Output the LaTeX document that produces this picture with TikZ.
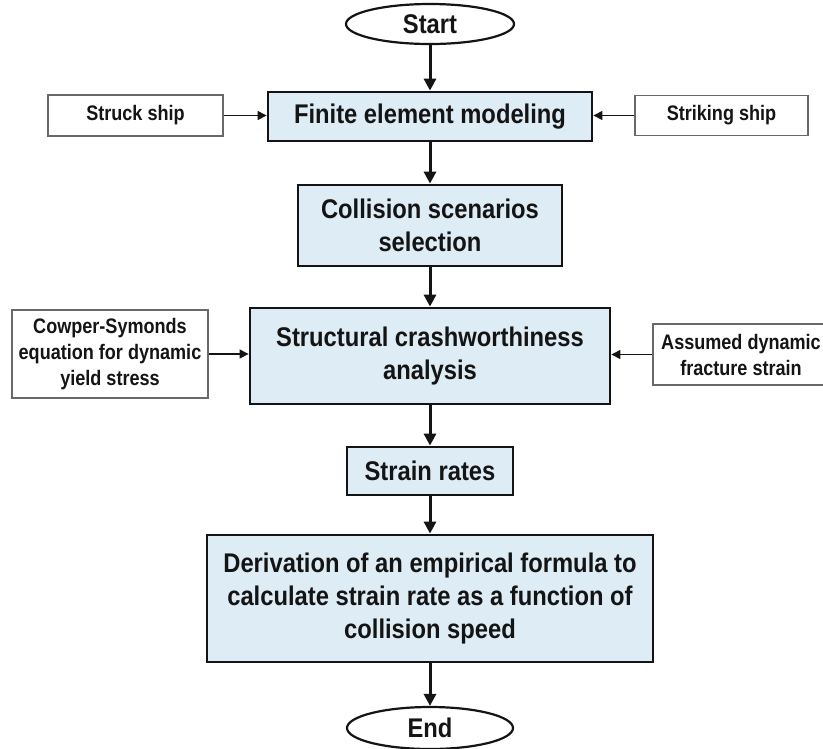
\documentclass[tikz,border=0pt]{standalone}
\usepackage{fontspec}
\setmainfont{Liberation Sans}
\newfontfamily\mainfont[FakeStretch=0.88]{Liberation Sans}
\newfontfamily\sidefont[FakeStretch=0.86]{Liberation Sans}
\usetikzlibrary{arrows.meta,shapes.geometric}
\definecolor{boxblue}{RGB}{221,236,245}
\definecolor{sidegray}{RGB}{105,105,105}
\definecolor{inkdark}{RGB}{20,20,20}
\begin{document}
\begin{tikzpicture}[x=1pt,y=-1pt,
  mainbox/.style={rectangle, draw=inkdark, line width=2.8pt, fill=boxblue, inner sep=0pt,
    align=center, font=\mainfont\fontsize{27}{33}\selectfont\bfseries, text=inkdark},
  sidebox/.style={rectangle, draw=sidegray, line width=1.1pt, fill=white, inner sep=0pt,
    align=center, font=\sidefont\fontsize{21}{26}\selectfont\bfseries, text=inkdark},
  termnode/.style={ellipse, draw=inkdark, line width=2.2pt, fill=white, inner sep=0pt,
    minimum width=168pt, minimum height=40pt, font=\mainfont\fontsize{27}{30}\selectfont\bfseries, text=inkdark},
  flow/.style={draw=inkdark, line width=3pt, -{Triangle[length=12pt,width=12pt]}},
  sideflow/.style={draw=inkdark, line width=1.1pt, -{Triangle[length=9pt,width=9pt]}}]
\useasboundingbox (0,0) rectangle (823,748);
\fill[white] (0,0) rectangle (823,748);
\clip (0,0) rectangle (823,748);

\node[termnode] (start) at (430,24) {Start};
\node[mainbox, minimum width=324pt, minimum height=49pt] (fem) at (430,116.5) {Finite element modeling};
\node[sidebox, minimum width=175pt, minimum height=41pt] (struck) at (135.5,115.5) {Struck ship};
\node[sidebox, minimum width=173pt, minimum height=40pt] (striking) at (721.5,115.5) {Striking ship};
\node[mainbox, minimum width=264pt, minimum height=81pt] (css) at (430,225.5) {Collision scenarios\\selection};
\node[mainbox, minimum width=360pt, minimum height=96pt] (sca) at (430,356) {Structural crashworthiness\\analysis};
\node[sidebox, minimum width=196pt, minimum height=88pt] (cowper) at (110,354) {Cowper-Symonds\\equation for dynamic\\yield stress};
\node[sidebox, minimum width=176pt, minimum height=61pt] (assumed) at (741,354.5) {Assumed dynamic\\fracture strain};
\node[mainbox, minimum width=166pt, minimum height=48pt] (sr) at (430,471) {Strain rates};
\node[mainbox, minimum width=446pt, minimum height=127pt] (der) at (430,598.5) {Derivation of an empirical formula to\\calculate strain rate as a function of\\collision speed};
\node[termnode, minimum width=166pt, minimum height=42pt] (end) at (430,728) {End};

\draw[flow] (start.south) -- (fem.north);
\draw[flow] (fem.south) -- (css.north);
\draw[flow] (css.south) -- (sca.north);
\draw[flow] (sca.south) -- (sr.north);
\draw[flow] (sr.south) -- (der.north);
\draw[flow] (der.south) -- (end.north);

\draw[sideflow] (struck.east) -- (struck.east -| fem.west);
\draw[sideflow] (striking.west) -- (striking.west -| fem.east);
\draw[sideflow] (cowper.east) -- (cowper.east -| sca.west);
\draw[sideflow] (assumed.west) -- (assumed.west -| sca.east);
\end{tikzpicture}
\end{document}
